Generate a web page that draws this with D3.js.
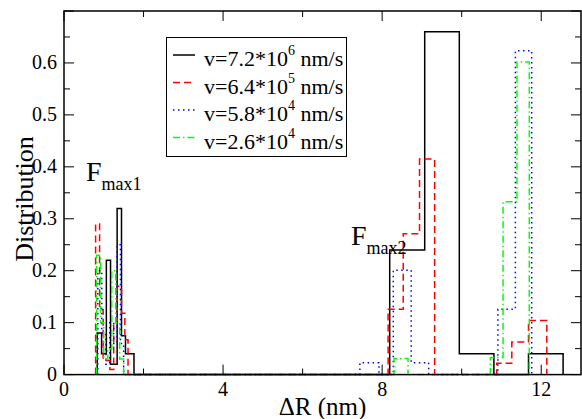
<!DOCTYPE html>
<html>
<head>
<meta charset="utf-8">
<script src="https://cdn.jsdelivr.net/npm/d3@7"></script>
<style>
  body { margin: 0; background: #fff; }
  text { font-family: "Liberation Serif", "Times New Roman", serif; }
</style>
</head>
<body>
<svg id="chart" width="582" height="419"></svg>
<script>
// histogram bin edges (nm) and heights, one pair of arrays per pulling speed
var blackEdges = [0.835, 0.945, 1.065, 1.17, 1.336, 1.446, 1.546, 1.76, 8.19, 9.07, 9.94, 10.81, 11.68, 12.55];
var blackVals  = [0.08, 0.04, 0.22, 0.02, 0.32, 0.075, 0.04, 0, 0.24, 0.66, 0.04, 0, 0.04];

var redEdges = [0.795, 0.895, 0.985, 1.153, 1.25, 1.336, 1.446, 1.53, 1.61, 8.15, 8.53, 8.94, 9.32, 10.88, 11.26, 11.68, 12.14];
var redVals  = [0.29, 0.125, 0.027, 0.01, 0.1, 0.17, 0.118, 0.067, 0, 0.126, 0.271, 0.415, 0, 0.022, 0.063, 0.104];

var blueEdges = [0.85, 0.95, 1.05, 1.15, 1.25, 1.336, 1.42, 1.5, 7.44, 7.92, 8.28, 8.73, 9.17, 10.91, 11.35, 11.76];
var blueVals  = [0.2, 0.08, 0.02, 0.1, 0.06, 0.25, 0.06, 0, 0.023, 0, 0.201, 0.023, 0, 0.126, 0.6235];

var greenEdges = [0.82, 0.92, 1.0, 1.1, 1.2, 1.3, 1.4, 1.5, 8.30, 8.65, 10.72, 11.04, 11.39, 11.70];
var greenVals  = [0.23, 0.1, 0.03, 0.05, 0.2, 0.1, 0.03, 0, 0.031, 0, 0.033, 0.3326, 0.602];

var legendLabels = [["7.2", "6"], ["6.4", "5"], ["5.8", "4"], ["2.6", "4"]];
var xTicks = [0, 4, 8, 12];
var yTicks = [0, 0.1, 0.2, 0.3, 0.4, 0.5, 0.6];

var series = [
    {edges: blackEdges, vals: blackVals, color: "#000000", dash: null},
    {edges: redEdges, vals: redVals, color: "#ff0000", dash: "7,4"},
    {edges: blueEdges, vals: blueVals, color: "#0000ff", dash: "1.5,3.5"},
    {edges: greenEdges, vals: greenVals, color: "#00ff00", dash: "7,3,1.5,3"}
];

var svg = d3.select("#chart");
var pLeft = 64, pRight = 581, pTop = 11, pBottom = 374.6;

var x = d3.scaleLinear().domain([0, 13]).range([pLeft, pRight]);
var y = d3.scaleLinear().domain([0, 0.7]).range([pBottom, pTop]);

function stepPoints(edges, vals) {
    var pts = [[edges[0], 0]];
    vals.forEach(function(v, i) {
        pts.push([edges[i], v]);
        pts.push([edges[i + 1], v]);
    });
    pts.push([edges[edges.length - 1], 0]);
    return pts;
}

var line = d3.line().x(d => x(d[0])).y(d => y(d[1]));

svg.append("g").selectAll("path")
    .data(series)
    .join("path")
    .attr("d", d => line(stepPoints(d.edges, d.vals)))
    .attr("fill", "none")
    .attr("stroke", d => d.color)
    .attr("stroke-width", 1.5)
    .attr("stroke-dasharray", d => d.dash);

// frame + inward ticks on all four sides
svg.append("rect")
    .attr("x", pLeft).attr("y", pTop)
    .attr("width", pRight - pLeft).attr("height", pBottom - pTop)
    .attr("fill", "none").attr("stroke", "#000").attr("stroke-width", 1.5);

var xMinor = d3.range(0, 13.01, 2);
var yMinor = d3.range(0, 0.701, 0.05);
var tg = svg.append("g").attr("stroke", "#000").attr("stroke-width", 1);
xMinor.forEach(function(v) {
    var len = (v % 4 === 0) ? 10 : 6;
    tg.append("line").attr("x1", x(v)).attr("x2", x(v)).attr("y1", pBottom).attr("y2", pBottom - len);
    tg.append("line").attr("x1", x(v)).attr("x2", x(v)).attr("y1", pTop).attr("y2", pTop + len);
});
yMinor.forEach(function(v, i) {
    var len = (i % 2 === 0) ? 10 : 6;
    tg.append("line").attr("y1", y(v)).attr("y2", y(v)).attr("x1", pLeft).attr("x2", pLeft + len);
    tg.append("line").attr("y1", y(v)).attr("y2", y(v)).attr("x1", pRight).attr("x2", pRight - len);
});

svg.append("g").selectAll("text")
    .data(xTicks)
    .join("text")
    .attr("x", d => x(d))
    .attr("y", 396)
    .attr("text-anchor", "middle")
    .attr("font-size", 20)
    .text(d => d);

svg.append("g").selectAll("text")
    .data(yTicks)
    .join("text")
    .attr("x", 57)
    .attr("y", d => y(d) + 6)
    .attr("text-anchor", "end")
    .attr("font-size", 20)
    .text(d => d === 0 ? "0" : d3.format(".1f")(d));

svg.append("text")
    .attr("x", x(6.5))
    .attr("y", 415)
    .attr("text-anchor", "middle")
    .attr("font-size", 25)
    .text("\u0394R (nm)");

svg.append("text")
    .attr("transform", "translate(33,199) rotate(-90)")
    .attr("text-anchor", "middle")
    .attr("font-size", 26)
    .text("Distribution");

// F_max labels
function fLabel(px, py, sub) {
    var t = svg.append("text").attr("x", px).attr("y", py).attr("font-size", 28);
    t.append("tspan").text("F");
    t.append("tspan").attr("font-size", 18).attr("dy", 9).text(sub);
}
fLabel(86, 181, "max1");
fLabel(351, 245, "max2");

// legend
var lg = svg.append("g");
lg.append("rect")
    .attr("x", 166.5).attr("y", 37.5).attr("width", 180).attr("height", 119)
    .attr("fill", "#fff").attr("stroke", "#000").attr("stroke-width", 1);
legendLabels.forEach(function(l, i) {
    var cy = 55 + i * 27.5;
    lg.append("line")
        .attr("x1", 173).attr("x2", 195).attr("y1", cy).attr("y2", cy)
        .attr("stroke", series[i].color).attr("stroke-width", 1.5)
        .attr("stroke-dasharray", series[i].dash);
    var t = lg.append("text").attr("x", 204).attr("y", cy + 11).attr("font-size", 22);
    t.append("tspan").text("v=" + l[0] + "*10");
    t.append("tspan").attr("font-size", 14).attr("dy", -11).text(l[1]);
    t.append("tspan").attr("dy", 11).text(" nm/s");
});
</script>
</body>
</html>
